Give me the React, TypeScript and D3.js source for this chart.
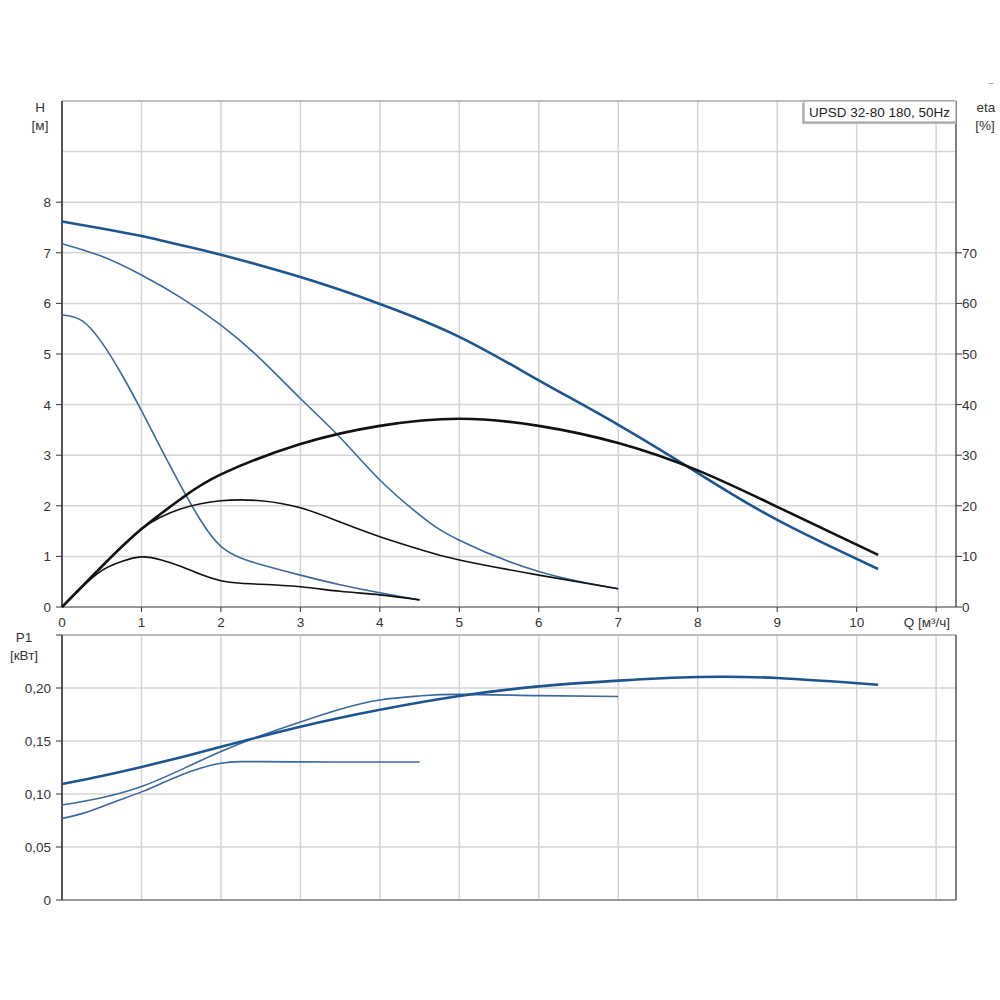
import React from 'react';
import * as d3 from 'd3';

// Q [m3/h] sample points
const qMax = [0, 0.5, 1, 1.5, 2, 3, 4, 5, 6, 7, 8, 9, 10.27];
const headMax = [7.62, 7.48, 7.33, 7.15, 6.96, 6.52, 5.99, 5.34, 4.48, 3.6, 2.65, 1.72, 0.75];
const etaMax = [0, 8.0, 15.4, 21.4, 26.2, 32.2, 35.8, 37.2, 35.8, 32.4, 27.0, 19.8, 10.3];
const powerMax = [0.1094, 0.117, 0.1255, 0.1347, 0.1445, 0.1635, 0.1795, 0.1925, 0.2015, 0.207, 0.2104, 0.2094, 0.203];

const qMid = [0, 0.5, 1, 1.5, 2, 2.5, 3, 3.5, 4, 4.5, 5, 6, 7];
const headMid = [7.18, 6.93, 6.56, 6.11, 5.57, 4.9, 4.12, 3.35, 2.51, 1.82, 1.32, 0.7, 0.36];
const etaMid = [0, 8.0, 15.4, 19.4, 21.0, 21.0, 19.6, 16.8, 13.9, 11.4, 9.3, 6.3, 3.6];
const powerMid = [0.0896, 0.0965, 0.107, 0.123, 0.14, 0.155, 0.168, 0.18, 0.1887, 0.1925, 0.194, 0.1928, 0.192];

const qLow = [0, 0.25, 0.5, 0.75, 1, 1.25, 1.5, 1.75, 2, 2.25, 2.5, 3, 3.5, 4, 4.5];
const headLow = [5.77, 5.66, 5.23, 4.6, 3.88, 3.12, 2.38, 1.7, 1.2, 0.97, 0.84, 0.63, 0.44, 0.28, 0.14];
const etaLow = [0, 3.9, 7.2, 9.0, 9.9, 9.3, 8.0, 6.4, 5.2, 4.7, 4.5, 4.0, 3.1, 2.4, 1.4];
const powerLow = [0.077, 0.0815, 0.088, 0.095, 0.102, 0.11, 0.118, 0.1245, 0.129, 0.1305, 0.1305, 0.1303, 0.1302, 0.1302, 0.1302];

const qTicks = [0, 1, 2, 3, 4, 5, 6, 7, 8, 9, 10];
const qGrid = [1, 2, 3, 4, 5, 6, 7, 8, 9, 10, 11];
const headTicks = [0, 1, 2, 3, 4, 5, 6, 7, 8];
const headGrid = [1, 2, 3, 4, 5, 6, 7, 8, 9];
const etaTicks = [0, 10, 20, 30, 40, 50, 60, 70];
const powerTicks = [0, 0.05, 0.1, 0.15, 0.2];
const powerGrid = [0.05, 0.1, 0.15, 0.2];

const title = 'UPSD 32-80 180, 50Hz';

const BLUE = '#1d5591';
const THIN_BLUE = '#3b68a0';
const BLACK = '#111';
const GRID = '#d4d4d4';
const FONT = 'Liberation Sans, Arial, sans-serif';
const FS = 13.5;

const App: React.FC = () => {
  const x = d3.scaleLinear().domain([0, 11.25]).range([62, 956]);
  const yH = d3.scaleLinear().domain([0, 10]).range([607, 101]);
  const yEta = d3.scaleLinear().domain([0, 100]).range([607, 101]);
  const yP = d3.scaleLinear().domain([0, 0.25]).range([900, 635]);

  const mk = (qs: number[], vs: number[], y: d3.ScaleLinear<number, number>) =>
    d3.line<number>()
      .x((_, i) => x(qs[i]))
      .y((v) => y(v))
      .curve(d3.curveNatural)(vs) || '';

  const [x0, x1] = x.range();
  const fmtP = (v: number) => (v === 0 ? '0' : d3.format('.2f')(v).replace('.', ','));

  return (
    <svg width={1000} height={1000} style={{ position: 'absolute', left: 0, top: 0 }} fontFamily={FONT}>
      <rect width={1000} height={1000} fill="#fff" />

      {/* ---- top panel: H and eta ---- */}
      {qGrid.map((q) => (
        <line key={'vg' + q} x1={x(q)} x2={x(q)} y1={yH(10)} y2={yH(0)} stroke={GRID} strokeWidth={1.5} />
      ))}
      {headGrid.map((h) => (
        <line key={'hg' + h} x1={x0} x2={x1} y1={yH(h)} y2={yH(h)} stroke={GRID} strokeWidth={1.5} />
      ))}
      <line x1={x0} x2={x1} y1={yH(10)} y2={yH(10)} stroke="#aaa" strokeWidth={1.5} />
      <line x1={x0} x2={x1} y1={yH(0)} y2={yH(0)} stroke="#999" strokeWidth={2} />
      <line x1={x0} x2={x0} y1={yH(10)} y2={yH(0)} stroke="#555" strokeWidth={2} />
      <line x1={x1} x2={x1} y1={yH(10)} y2={yH(0)} stroke="#555" strokeWidth={1.5} />

      {headTicks.map((h) => (
        <g key={'ht' + h}>
          <line x1={x0 - 6} x2={x0} y1={yH(h)} y2={yH(h)} stroke="#333" strokeWidth={1} />
          <text x={x0 - 11} y={yH(h) + 5} fontSize={FS} textAnchor="end" fill="#333">{h}</text>
        </g>
      ))}
      {etaTicks.map((e) => (
        <g key={'et' + e}>
          <line x1={x1} x2={x1 + 6} y1={yEta(e)} y2={yEta(e)} stroke="#333" strokeWidth={1} />
          <text x={x1 + 6} y={yEta(e) + 5} fontSize={FS} textAnchor="start" fill="#333">{e}</text>
        </g>
      ))}
      {qGrid.map((q) => (
        <line key={'qt' + q} x1={x(q)} x2={x(q)} y1={yH(0)} y2={yH(0) + 5} stroke="#333" strokeWidth={1} />
      ))}
      {qTicks.map((q) => (
        <text key={'ql' + q} x={x(q)} y={yH(0) + 20} fontSize={FS} textAnchor="middle" fill="#333">{q}</text>
      ))}
      <text x={950} y={yH(0) + 20} fontSize={FS} textAnchor="end" fill="#333">Q [м³/ч]</text>

      <text x={40} y={112} fontSize={FS} textAnchor="middle" fill="#333">H</text>
      <text x={40} y={130} fontSize={FS} textAnchor="middle" fill="#333">[м]</text>
      <text x={986} y={112} fontSize={FS} textAnchor="middle" fill="#333">eta</text>
      <text x={985} y={130} fontSize={FS} textAnchor="middle" fill="#333">[%]</text>
      <text x={991} y={86} fontSize={9} textAnchor="middle" fill="#888">–</text>

      <path d={mk(qLow, headLow, yH)} fill="none" stroke={THIN_BLUE} strokeWidth={1.6} />
      <path d={mk(qMid, headMid, yH)} fill="none" stroke={THIN_BLUE} strokeWidth={1.6} />
      <path d={mk(qMax, headMax, yH)} fill="none" stroke={BLUE} strokeWidth={2.6} />
      <path d={mk(qLow, etaLow, yEta)} fill="none" stroke={BLACK} strokeWidth={1.6} />
      <path d={mk(qMid, etaMid, yEta)} fill="none" stroke={BLACK} strokeWidth={1.6} />
      <path d={mk(qMax, etaMax, yEta)} fill="none" stroke={BLACK} strokeWidth={2.6} />

      {/* legend box */}
      <rect x={802} y={103} width={154} height={21} fill="#bbb" />
      <rect x={804} y={101} width={152} height={21} fill="#fff" stroke="#999" strokeWidth={1} />
      <text x={809} y={116.5} fontSize={FS} fill="#222">{title}</text>

      {/* ---- bottom panel: P1 ---- */}
      {qGrid.map((q) => (
        <line key={'pvg' + q} x1={x(q)} x2={x(q)} y1={yP(0.25)} y2={yP(0)} stroke={GRID} strokeWidth={1.5} />
      ))}
      {powerGrid.map((p) => (
        <line key={'phg' + p} x1={x0} x2={x1} y1={yP(p)} y2={yP(p)} stroke={GRID} strokeWidth={1.5} />
      ))}
      <line x1={x0} x2={x1} y1={yP(0.25)} y2={yP(0.25)} stroke="#bbb" strokeWidth={2} />
      <line x1={x0} x2={x1} y1={yP(0)} y2={yP(0)} stroke="#999" strokeWidth={2} />
      <line x1={x0} x2={x0} y1={yP(0.25)} y2={yP(0)} stroke="#555" strokeWidth={2} />
      <line x1={x1} x2={x1} y1={yP(0.25)} y2={yP(0)} stroke="#555" strokeWidth={1.5} />
      <line x1={x0 - 6} x2={x0} y1={yP(0.25)} y2={yP(0.25)} stroke="#333" strokeWidth={1} />
      {powerTicks.map((p) => (
        <g key={'pt' + p}>
          <line x1={x0 - 6} x2={x0} y1={yP(p)} y2={yP(p)} stroke="#333" strokeWidth={1} />
          <text x={x0 - 11} y={yP(p) + 5} fontSize={FS} textAnchor="end" fill="#333">{fmtP(p)}</text>
        </g>
      ))}
      <text x={24} y={642} fontSize={FS} textAnchor="middle" fill="#333">P1</text>
      <text x={24} y={660} fontSize={FS} textAnchor="middle" fill="#333">[кВт]</text>

      <path d={mk(qLow, powerLow, yP)} fill="none" stroke={THIN_BLUE} strokeWidth={1.6} />
      <path d={mk(qMid, powerMid, yP)} fill="none" stroke={THIN_BLUE} strokeWidth={1.6} />
      <path d={mk(qMax, powerMax, yP)} fill="none" stroke={BLUE} strokeWidth={2.6} />
    </svg>
  );
};

export default App;
